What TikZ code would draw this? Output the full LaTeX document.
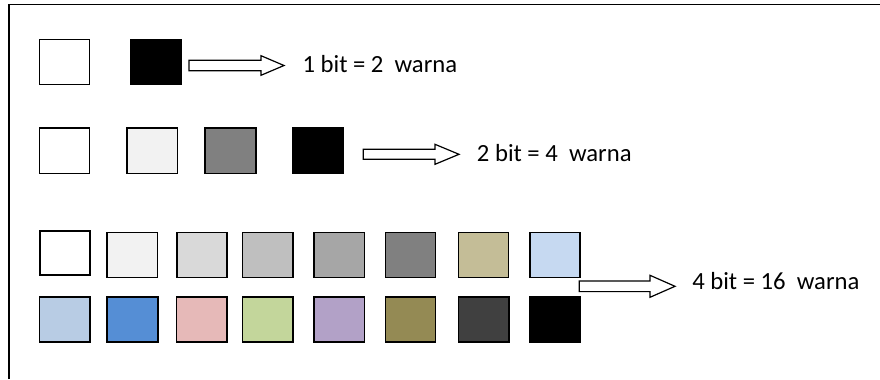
\documentclass[tikz,border=0pt]{standalone}
\usepackage{fontspec}
\setmainfont{Carlito}
\tikzset{
  sq/.style={draw=black, line width=1.2pt},
  frameline/.style={draw=black, line width=1.1pt},
  blockarrow/.style={draw=black, fill=white, line width=0.9pt, line join=miter},
  lab/.style={anchor=base west, inner sep=0pt, font=\fontsize{18.5}{22}\selectfont},
}
% \barrow{x0}{yc}{x1}{tip}{shaft half}{head half}
\newcommand\barrow[6]{%
  \draw[blockarrow] (#1,#2-#5) -- (#3,#2-#5) -- (#3,#2-#6) -- (#4,#2) -- (#3,#2+#6) -- (#3,#2+#5) -- (#1,#2+#5) -- cycle;}
\begin{document}
\begin{tikzpicture}[x=0.75pt,y=-0.75pt]
\useasboundingbox (0,0) rectangle (880,379);
% frame
\draw[frameline] (9,379) -- (9,4.5) -- (880,4.5);
% row 1
\path[sq, fill=white] (39.5,39.5) rectangle (89.5,84.5);
\path[sq, fill=black] (130.5,39.5) rectangle (181,84.5);
\barrow{189}{65.5}{261}{284}{5.2}{9.8}
\node[lab] (t1) at (302.3,72.3) {1 bit = 2\ \ warna};
% row 2
\path[sq, fill=white] (39.5,128) rectangle (89.5,173.3);
\path[sq, fill={rgb,255:red,242;green,242;blue,242}] (126.7,128) rectangle (177.3,173.3);
\path[sq, fill={rgb,255:red,128;green,128;blue,128}] (205,128) rectangle (255.7,173.3);
\path[sq, fill=black] (292.3,128) rectangle (343.3,173.3);
\barrow{363.3}{154.3}{435}{459}{5}{10}
\node[lab] (t2) at (476.7,161.7) {2 bit = 4\ \ warna};
% row 3
\path[sq, fill=white] (39.8,230.8) rectangle (90,275);
\path[sq, fill={rgb,255:red,242;green,242;blue,242}] (107,232.5) rectangle (157.3,277.3);
\path[sq, fill={rgb,255:red,217;green,217;blue,217}] (176.8,232.5) rectangle (227,277.3);
\path[sq, fill={rgb,255:red,191;green,191;blue,191}] (242.6,232.5) rectangle (293,277.3);
\path[sq, fill={rgb,255:red,166;green,166;blue,166}] (313.8,232.5) rectangle (364.3,277.3);
\path[sq, fill={rgb,255:red,128;green,128;blue,128}] (385.4,232.5) rectangle (435.5,277.3);
\path[sq, fill={rgb,255:red,196;green,189;blue,151}] (458.5,232.5) rectangle (508.6,277.3);
\path[sq, fill={rgb,255:red,198;green,217;blue,241}] (529.7,232.5) rectangle (579.8,277.3);
% row 4
\path[sq, fill={rgb,255:red,184;green,204;blue,228}] (39.5,296.7) rectangle (89.7,341.7);
\path[sq, fill={rgb,255:red,85;green,142;blue,213}] (107,296.7) rectangle (157.7,341.7);
\path[sq, fill={rgb,255:red,230;green,185;blue,184}] (176.3,296.7) rectangle (227,341.7);
\path[sq, fill={rgb,255:red,195;green,214;blue,155}] (242.3,296.7) rectangle (293,341.7);
\path[sq, fill={rgb,255:red,178;green,161;blue,199}] (313.8,296.7) rectangle (364.3,341.7);
\path[sq, fill={rgb,255:red,148;green,138;blue,84}] (385.4,296.7) rectangle (435.5,341.7);
\path[sq, fill={rgb,255:red,64;green,64;blue,64}] (458.3,296.7) rectangle (509,341.7);
\path[sq, fill=black] (529.3,296.7) rectangle (580,341.7);
\barrow{579.3}{286.3}{650}{675}{5.3}{11}
\node[lab] (t3) at (692,289) {4 bit = 16\ \ warna};
\end{tikzpicture}
\end{document}
